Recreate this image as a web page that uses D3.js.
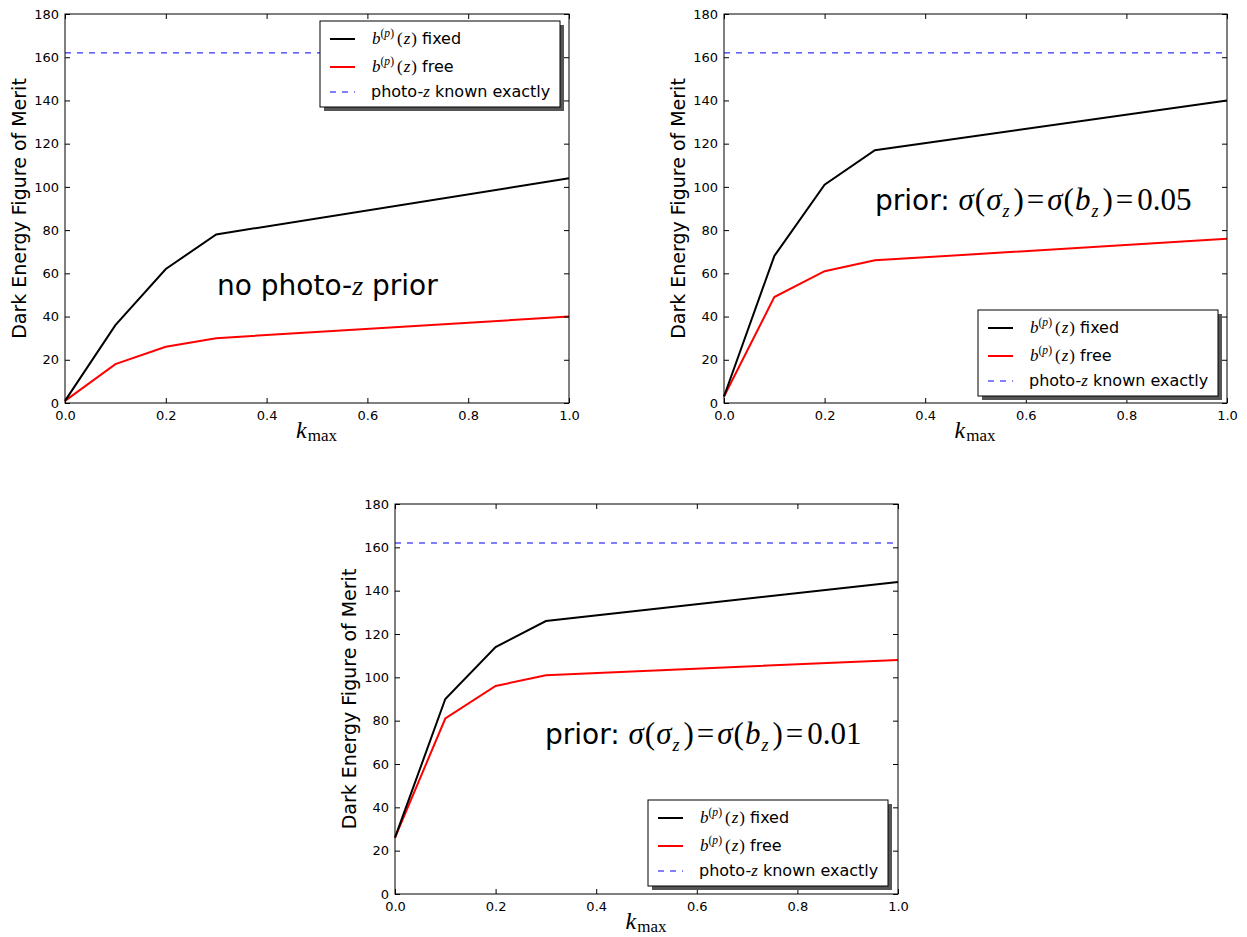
<!DOCTYPE html>
<html><head><meta charset="utf-8">
<script src="https://cdn.jsdelivr.net/npm/d3@7"></script>
<style>body{margin:0;background:#fff}svg{display:block}</style>
</head><body>
<svg id="c" width="1247" height="937"></svg>
<script>
const kmax = [0.0, 0.1, 0.2, 0.3, 1.0];
const fixed1 = [1, 36, 62, 78, 104];
const free1  = [1, 18, 26, 30, 40];
const fixed2 = [3, 68, 101, 117, 140];
const free2  = [3, 49, 61, 66, 76];
const fixed3 = [26, 90, 114, 126, 144];
const free3  = [26, 81, 96, 101, 108];
const exactFoM = 162;
const xTicks = [0.0, 0.2, 0.4, 0.6, 0.8, 1.0];
const yTicks = [0, 20, 40, 60, 80, 100, 120, 140, 160, 180];

const svg = d3.select("#c");
const SANS = "'DejaVu Sans', sans-serif";
const SERIF = "'Liberation Serif', 'DejaVu Serif', serif";

function mathLabel(g, x, y, size) {
  const t = g.append("text").attr("x", x).attr("y", y).attr("font-size", size);
  t.append("tspan").attr("font-family", SERIF).attr("font-style", "italic").text("b");
  t.append("tspan").attr("font-family", SERIF).attr("font-size", size * 0.68).attr("dy", -size * 0.42).text("(");
  t.append("tspan").attr("font-family", SERIF).attr("font-style", "italic").attr("font-size", size * 0.68).text("p");
  t.append("tspan").attr("font-family", SERIF).attr("font-size", size * 0.68).text(")");
  t.append("tspan").attr("font-family", SERIF).attr("dy", size * 0.42).attr("dx", 3).text("(");
  t.append("tspan").attr("font-family", SERIF).attr("font-style", "italic").attr("dx", 1).text("z");
  t.append("tspan").attr("font-family", SERIF).attr("dx", 1).text(")");
  return t;
}

function drawPanel(p) {
  const x = d3.scaleLinear().domain([0, 1]).range([p.x0, p.x1]);
  const y = d3.scaleLinear().domain([0, 180]).range([p.y1, p.y0]);
  const g = svg.append("g");

  g.append("line").attr("x1", x(0)).attr("x2", x(1)).attr("y1", y(exactFoM)).attr("y2", y(exactFoM))
    .attr("stroke", "#0000ff").attr("stroke-width", 1).attr("stroke-dasharray", "6,6");

  const line = d3.line().x((d, i) => x(kmax[i])).y(d => y(d));
  g.append("path").datum(p.free).attr("d", line).attr("fill", "none").attr("stroke", "#ff0000").attr("stroke-width", 2);
  g.append("path").datum(p.fixed).attr("d", line).attr("fill", "none").attr("stroke", "#000").attr("stroke-width", 2);

  const ax = d3.axisBottom(x).tickValues(xTicks).tickFormat(d3.format(".1f")).tickSizeInner(-5).tickSizeOuter(0).tickPadding(8);
  const axT = d3.axisTop(x).tickValues(xTicks).tickFormat("").tickSizeInner(-5).tickSizeOuter(0);
  const ay = d3.axisLeft(y).tickValues(yTicks).tickFormat(d3.format("d")).tickSizeInner(-5).tickSizeOuter(0).tickPadding(6);
  const ayR = d3.axisRight(y).tickValues(yTicks).tickFormat("").tickSizeInner(-5).tickSizeOuter(0);
  const styleAx = sel => {
    sel.selectAll("text").attr("font-family", SANS).attr("font-size", 13).attr("fill", "#000");
    sel.selectAll("line").attr("stroke", "#000");
    sel.select(".domain").remove();
  };
  g.append("g").attr("transform", `translate(0,${p.y1})`).call(ax).call(styleAx);
  g.append("g").attr("transform", `translate(0,${p.y0})`).call(axT).call(styleAx);
  g.append("g").attr("transform", `translate(${p.x0},0)`).call(ay).call(styleAx);
  g.append("g").attr("transform", `translate(${p.x1},0)`).call(ayR).call(styleAx);
  g.append("rect").attr("x", p.x0).attr("y", p.y0).attr("width", p.x1 - p.x0).attr("height", p.y1 - p.y0)
    .attr("fill", "none").attr("stroke", "#000").attr("stroke-width", 1);

  g.append("text").attr("transform", `translate(${p.x0 - 39},${(p.y0 + p.y1) / 2}) rotate(-90)`)
    .attr("text-anchor", "middle").attr("font-family", SANS).attr("font-size", 19).text("Dark Energy Figure of Merit");
  const xl = g.append("text").attr("x", (p.x0 + p.x1) / 2 - 21).attr("y", p.y1 + 35).attr("font-family", SERIF).attr("font-size", 24);
  xl.append("tspan").attr("font-style", "italic").text("k");
  xl.append("tspan").attr("font-size", 17).attr("dy", 3).attr("dx", 1).text("max");

  const an = g.append("text").attr("x", p.ax).attr("y", p.ay).attr("font-size", 28).attr("font-family", SANS);
  if (p.prior === null) {
    an.append("tspan").text("no photo-");
    an.append("tspan").attr("font-family", SERIF).attr("font-style", "italic").text("z");
    an.append("tspan").text(" prior");
  } else {
    an.append("tspan").text("prior: ");
    const M = 31;
    const s = (txt, it, extra) => { const t = an.append("tspan").attr("font-family", SERIF).attr("font-size", M).text(txt); if (it) t.attr("font-style", "italic"); if (extra) extra(t); return t; };
    s("σ", true); s("(", false, t => t.attr("dx", 1)); s("σ", true, t => t.attr("dx", 1));
    s("z", true, t => t.attr("font-size", 18).attr("dy", 7).attr("dx", 1));
    s(")", false, t => t.attr("dy", -7).attr("dx", 4));
    s("=", false, t => t.attr("dx", 3));
    s("σ", true, t => t.attr("dx", 3)); s("(", false, t => t.attr("dx", 1)); s("b", true, t => t.attr("dx", 1));
    s("z", true, t => t.attr("font-size", 18).attr("dy", 7).attr("dx", 1));
    s(")", false, t => t.attr("dy", -7).attr("dx", 4));
    s("=", false, t => t.attr("dx", 3));
    s(p.prior, false, t => t.attr("dx", 4));
  }

  const lx = p.lx, ly = p.ly, lw = 240, lh = 86;
  g.append("rect").attr("x", lx + 4).attr("y", ly + 4).attr("width", lw).attr("height", lh).attr("fill", "#555");
  g.append("rect").attr("x", lx).attr("y", ly).attr("width", lw).attr("height", lh).attr("fill", "#fff").attr("stroke", "#000").attr("stroke-width", 1);
  const rows = [ly + 18, ly + 46, ly + 71];
  g.append("line").attr("x1", lx + 10).attr("x2", lx + 35).attr("y1", rows[0]).attr("y2", rows[0]).attr("stroke", "#000").attr("stroke-width", 2);
  g.append("line").attr("x1", lx + 10).attr("x2", lx + 35).attr("y1", rows[1]).attr("y2", rows[1]).attr("stroke", "#ff0000").attr("stroke-width", 2);
  g.append("line").attr("x1", lx + 10).attr("x2", lx + 35).attr("y1", rows[2]).attr("y2", rows[2]).attr("stroke", "#0000ff").attr("stroke-width", 1).attr("stroke-dasharray", "6,6");
  const t1 = mathLabel(g, lx + 52, rows[0] + 5, 17);
  t1.append("tspan").attr("font-family", SANS).attr("font-size", 16).text(" fixed");
  const t2 = mathLabel(g, lx + 52, rows[1] + 5, 17);
  t2.append("tspan").attr("font-family", SANS).attr("font-size", 16).text(" free");
  const t3 = g.append("text").attr("x", lx + 51).attr("y", rows[2] + 5).attr("font-size", 16).attr("font-family", SANS);
  t3.append("tspan").text("photo-");
  t3.append("tspan").attr("font-family", SERIF).attr("font-style", "italic").attr("font-size", 17).text("z");
  t3.append("tspan").text(" known exactly");
}

drawPanel({x0: 65, x1: 569, y0: 14, y1: 403, fixed: fixed1, free: free1, prior: null, ax: 217, ay: 295, lx: 320, ly: 21});
drawPanel({x0: 724, x1: 1227, y0: 14, y1: 403, fixed: fixed2, free: free2, prior: "0.05", ax: 875, ay: 210, lx: 978, ly: 310});
drawPanel({x0: 395, x1: 898, y0: 504, y1: 894, fixed: fixed3, free: free3, prior: "0.01", ax: 545, ay: 744, lx: 648, ly: 800});
</script>
</body></html>
